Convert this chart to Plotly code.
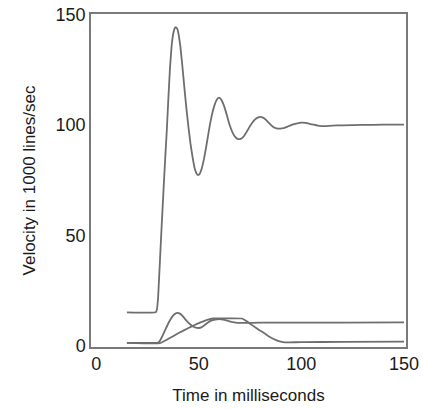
import plotly.graph_objects as go

# Main (carriage) velocity curve
main_t = [15, 29.0, 29.6, 30.2, 30.8, 31.8, 32.8, 33.6, 34.4, 35.2, 36.0, 36.8, 37.6, 38.4, 39.0,
          39.6, 40.3, 41.0, 42, 43, 44, 45, 46, 47, 48, 49, 49.7, 50.5, 51.5, 52.5, 53.5,
          54.5, 55.5, 56.5, 57.5, 58.5, 59.5, 60.3, 61, 62, 63, 64, 65, 66, 67, 68, 69, 70,
          71, 72, 73, 74, 75, 76, 77, 78, 79, 80, 81, 82, 83, 84, 85, 86, 87, 88, 89, 90,
          91, 92, 94, 96, 98, 100, 102, 104, 106, 108, 110, 112, 115, 120, 130, 140, 150]
main_v = [15.3, 15.3, 16.5, 22, 33, 52, 70, 84, 97, 112, 126, 136, 141.5, 144, 144.3,
          143.5, 140.5, 136, 127, 117, 107.5, 99, 91.5, 85.5, 80.5, 78, 77.4, 78, 80.5, 84.5, 89.5,
          95, 100.5, 105, 108.5, 111, 112.3, 112.3, 111.5, 109.5, 106.8, 103.5, 100.3, 97.7, 95.7, 94.4, 93.8, 93.7,
          94.1, 95, 96.4, 98, 99.6, 101, 102.2, 103, 103.5, 103.7, 103.5, 103, 102.2, 101.2, 100.2, 99.4, 98.8, 98.5, 98.4, 98.4,
          98.6, 98.9, 99.6, 100.3, 100.8, 101.1, 101.0, 100.6, 100.2, 99.8, 99.6, 99.6, 99.8, 99.9, 100.1, 100.2, 100.2]

# Second curve (overshoot to ~15 then settles ~10.6)
b_t = [15, 30.0, 30.8, 32, 33.5, 35, 36.5, 38, 39.5, 41, 42.5, 44, 45.5, 47, 48.5, 50,
       51.5, 53, 54.5, 56, 58, 60, 62, 64, 66, 68, 70, 80, 100, 120, 150]
b_v = [1.5, 1.5, 2.0, 4.0, 7.0, 10.0, 12.5, 14.3, 15.0, 14.6, 13.2, 11.5, 10.1, 9.0, 8.4, 8.2,
       8.6, 9.6, 10.7, 11.5, 12.0, 12.2, 12.0, 11.5, 11.0, 10.6, 10.5, 10.6, 10.6, 10.6, 10.7]

# Third curve (trapezoidal profile)
c_t = [15, 31.0, 35, 40, 45, 50, 55, 57.5, 71.0, 73, 76, 80, 84, 88, 90, 92, 94, 100, 120, 150]
c_v = [1.5, 1.3, 3.2, 5.8, 8.2, 10.4, 12.1, 12.5, 12.5, 11.5, 9.5, 7.0, 4.5, 2.6, 2.0, 1.7, 1.7, 1.8, 1.9, 2.0]

x_ticks = [0, 50, 100, 150]
y_ticks = [0, 50, 100, 150]

line_color = "#6e6e6e"
fig = go.Figure()
for t, v in [(main_t, main_v), (b_t, b_v), (c_t, c_v)]:
    fig.add_trace(go.Scatter(x=t, y=v, mode="lines",
                             line=dict(color=line_color, width=1.8, shape="spline", smoothing=0.3),
                             showlegend=False, hoverinfo="skip"))

font_family = "Liberation Sans, Arial, Helvetica, sans-serif"
fig.update_layout(
    width=423, height=409,
    margin=dict(l=91, r=17, t=14, b=62),
    paper_bgcolor="white", plot_bgcolor="white",
    font=dict(family=font_family, color="#1a1a1a"),
    xaxis=dict(range=[-2.5, 151], tickvals=x_ticks, ticktext=[str(v) for v in x_ticks],
               showgrid=False, zeroline=False, showline=True, mirror=True,
               linecolor="#7a7a7a", linewidth=1.5, ticks="",
               tickfont=dict(size=18), ticklabelstandoff=0,
               title=dict(text="Time in milliseconds", font=dict(size=17), standoff=16),
               automargin=False),
    yaxis=dict(range=[-0.4, 150.3], tickvals=y_ticks, ticktext=[str(v) for v in y_ticks],
               showgrid=False, zeroline=False, showline=True, mirror=True,
               linecolor="#7a7a7a", linewidth=1.5, ticks="",
               tickfont=dict(size=18), ticklabelstandoff=0,
               title=dict(text="Velocity in 1000 lines/sec", font=dict(size=17), standoff=16),
               automargin=False),
)

fig.write_html("out.html")
